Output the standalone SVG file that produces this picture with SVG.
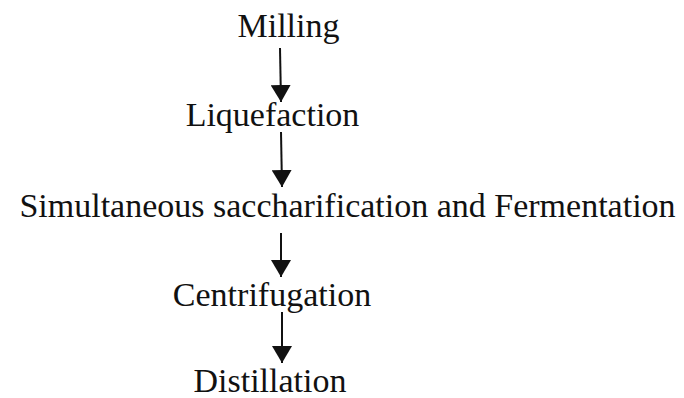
<svg xmlns="http://www.w3.org/2000/svg" width="684" height="398" viewBox="0 0 684 398">
<style>
.lbl{font-family:"Liberation Serif","Times New Roman",serif;font-size:34px;fill:#111;text-anchor:middle}
.conn{stroke:#111;stroke-width:2;fill:none}
</style>
<defs>
<marker id="ah" markerUnits="userSpaceOnUse" markerWidth="18" markerHeight="20" viewBox="0 0 18 20" refX="17" refY="10" orient="auto">
<path d="M0,0 L17,10 L0,20 z" fill="#111"/>
</marker>
</defs>
<rect width="684" height="398" fill="#fff"/>
<g id="connectors">
<line class="conn" x1="280" y1="48" x2="281" y2="102" marker-end="url(#ah)"/>
<line class="conn" x1="281" y1="132" x2="282" y2="187" marker-end="url(#ah)"/>
<line class="conn" x1="281" y1="233" x2="281" y2="277" marker-end="url(#ah)"/>
<line class="conn" x1="282" y1="312" x2="282" y2="363" marker-end="url(#ah)"/>
</g>
<g id="milling"><text class="lbl" x="288.5" y="37">Milling</text></g>
<g id="liquefaction"><text class="lbl" x="272.5" y="126">Liquefaction</text></g>
<g id="ssf"><text class="lbl" x="347.5" y="217">Simultaneous saccharification and Fermentation</text></g>
<g id="centrifugation"><text class="lbl" x="272" y="306">Centrifugation</text></g>
<g id="distillation"><text class="lbl" x="270" y="392">Distillation</text></g>
</svg>
